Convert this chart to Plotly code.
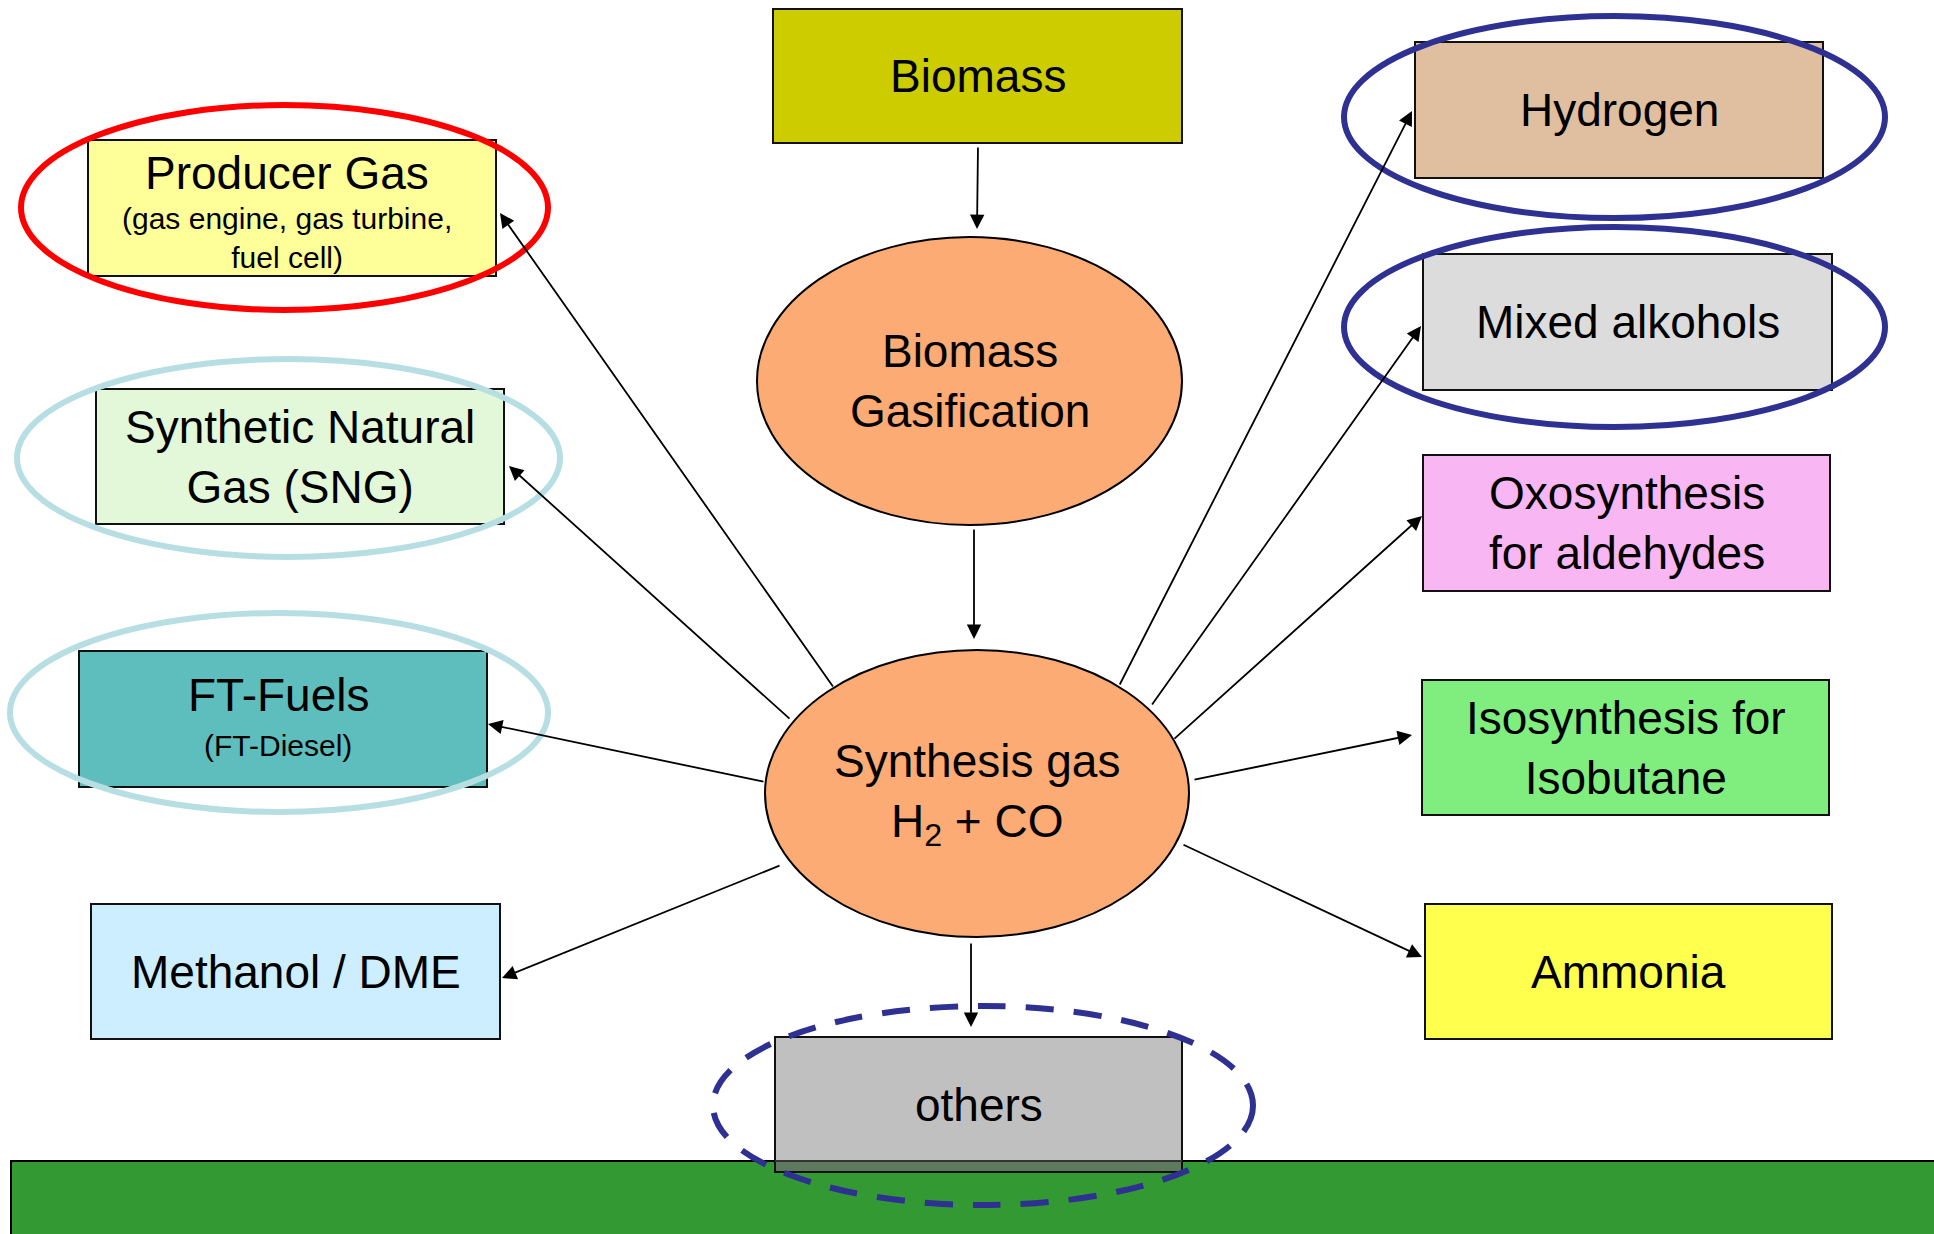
import plotly.graph_objects as go

W, H = 1934, 1234

# Rectangular boxes: label, sub-label, fill colour
box_labels = ["Biomass", "Producer Gas", "Synthetic Natural<br>Gas (SNG)", "FT-Fuels",
              "Methanol / DME", "Hydrogen", "Mixed alkohols",
              "Oxosynthesis<br>for aldehydes", "Isosynthesis for<br>Isobutane", "Ammonia", "others"]
box_sub = ["", "(gas engine, gas turbine,<br>fuel cell)", "", "(FT-Diesel)",
           "", "", "", "", "", "", ""]
box_fill = ["#CCCC00", "#FFFF99", "#E3F7D9", "#5EBDBD", "#CCEEFF", "#DFBF9F",
            "#DCDCDC", "#F8B6F2", "#7FEE7F", "#FFFF4D", "#C0C0C0"]
# box extents x0, y0, x1, y1 (pixels, y down)
box_x0 = [773, 88, 96, 79, 91, 1415, 1423, 1423, 1422, 1425, 775]
box_y0 = [9, 140, 389, 651, 904, 42, 254, 455, 680, 904, 1037]
box_x1 = [1182, 496, 504, 487, 500, 1823, 1832, 1830, 1829, 1832, 1182]
box_y1 = [143, 276, 524, 787, 1039, 178, 390, 591, 815, 1039, 1172]

# Filled process ellipses
node_labels = ["Biomass<br>Gasification", "Synthesis gas<br>H<sub>2</sub> + CO"]
node_x0 = [757, 765]
node_y0 = [237, 650]
node_x1 = [1182, 1189]
node_y1 = [525, 937]
node_fill = "#FBAB73"

# Highlight rings: x0, y0, x1, y1, colour, dash
ring_x0 = [21, 17, 10, 1344, 1344, 713]
ring_y0 = [105, 359, 613, 16, 227, 1006]
ring_x1 = [548, 560, 548, 1885, 1885, 1253]
ring_y1 = [310, 557, 812, 218, 427, 1205]
ring_color = ["#FF0000", "#B7DFE3", "#B7DFE3", "#2E3192", "#2E3192", "#2E3192"]
ring_dash = ["solid", "solid", "solid", "solid", "solid", "28px,20px"]

# Arrows: tail (x, y) -> head (x, y)
arrow_tail_x = [978, 974, 834, 791, 765, 781, 971, 1119, 1151, 1173, 1193, 1182]
arrow_tail_y = [146, 528, 688, 720, 782, 865, 942, 686, 706, 740, 780, 844]
arrow_head_x = [977, 974, 500, 509, 488, 502, 971, 1412, 1421, 1422, 1412, 1422]
arrow_head_y = [229, 639, 213, 466, 724, 978, 1027, 111, 326, 516, 735, 957]

ground_y = 1161
ground_x = 11

fig = go.Figure()
shapes = []
annotations = []

# ground
shapes.append(dict(type="rect", x0=ground_x, y0=ground_y, x1=W + 5, y1=H + 5,
                   fillcolor="#339933", line=dict(color="black", width=2), layer="below"))

for i in range(len(box_labels)):
    shapes.append(dict(type="rect", x0=box_x0[i], y0=box_y0[i], x1=box_x1[i], y1=box_y1[i],
                       fillcolor=box_fill[i], line=dict(color="#111111", width=2), layer="below"))

# part of "others" box sitting on the ground
shapes.append(dict(type="rect", x0=box_x0[-1], y0=ground_y, x1=box_x1[-1], y1=box_y1[-1],
                   fillcolor="#5E7A5E", line=dict(color="#111111", width=2), layer="below"))
shapes.append(dict(type="line", x0=box_x0[-1], y0=ground_y, x1=box_x1[-1], y1=ground_y,
                   line=dict(color="#333333", width=2), layer="below"))

for i in range(len(node_labels)):
    shapes.append(dict(type="circle", x0=node_x0[i], y0=node_y0[i], x1=node_x1[i], y1=node_y1[i],
                       fillcolor=node_fill, line=dict(color="black", width=2), layer="below"))

for i in range(len(ring_x0)):
    shapes.append(dict(type="circle", x0=ring_x0[i], y0=ring_y0[i], x1=ring_x1[i], y1=ring_y1[i],
                       line=dict(color=ring_color[i], width=6, dash=ring_dash[i]), layer="above"))

font = "Liberation Sans, Arial, sans-serif"

for i, lab in enumerate(box_labels):
    cx = (box_x0[i] + box_x1[i]) / 2
    cy = (box_y0[i] + box_y1[i]) / 2
    if box_sub[i]:
        n_sub = box_sub[i].count("<br>") + 1
        ty = box_y0[i] + 33 if n_sub == 2 else cy - 24
        sy = box_y1[i] - 38 if n_sub == 2 else cy + 26
        annotations.append(dict(x=cx - 5, y=ty, text=lab, showarrow=False,
                                font=dict(size=46, family=font, color="black")))
        annotations.append(dict(x=cx - 5, y=sy, text=box_sub[i], showarrow=False,
                                font=dict(size=30, family=font, color="black")))
    else:
        annotations.append(dict(x=cx, y=cy, text=lab, showarrow=False,
                                font=dict(size=46, family=font, color="black")))

for i, lab in enumerate(node_labels):
    annotations.append(dict(x=(node_x0[i] + node_x1[i]) / 2, y=(node_y0[i] + node_y1[i]) / 2,
                            text=lab, showarrow=False,
                            font=dict(size=46, family=font, color="black")))

for tx, ty, hx, hy in zip(arrow_tail_x, arrow_tail_y, arrow_head_x, arrow_head_y):
    annotations.append(dict(x=hx, y=hy, ax=tx, ay=ty, xref="x", yref="y", axref="x", ayref="y",
                            text="", showarrow=True, arrowhead=2, arrowsize=1.6,
                            arrowwidth=1.8, arrowcolor="black"))

fig.update_layout(
    width=W, height=H,
    margin=dict(l=0, r=0, t=0, b=0),
    paper_bgcolor="white", plot_bgcolor="white",
    xaxis=dict(range=[0, W], visible=False, fixedrange=True),
    yaxis=dict(range=[H, 0], visible=False, fixedrange=True),
    shapes=shapes, annotations=annotations, showlegend=False,
)

# drop the browser's default body margin so the figure fills the window
fig.write_html("out.html", config={"displayModeBar": False},
               post_script="document.body.style.margin='0';document.body.style.overflow='hidden';")
